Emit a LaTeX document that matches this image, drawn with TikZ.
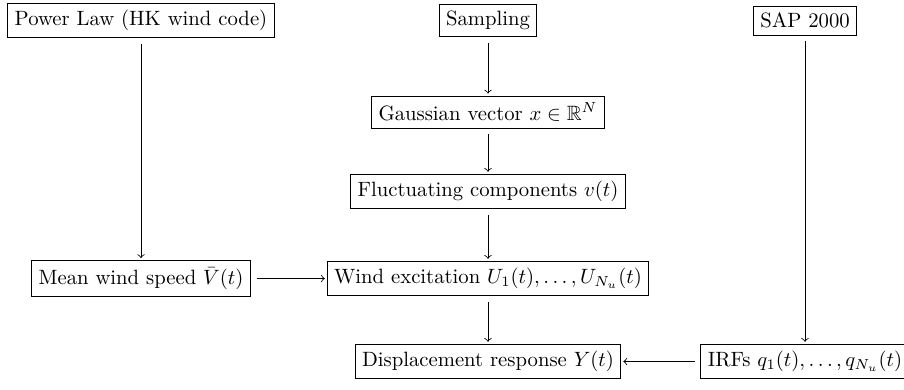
\documentclass[tikz,border=0pt]{standalone}
\usepackage{amssymb}
\begin{document}
\begin{tikzpicture}[x=0.483pt,y=-0.483pt,
  box/.style={draw, inner sep=3.33pt, line width=0.4pt},
  arr/.style={->, line width=0.4pt, shorten <=2.8pt, shorten >=1pt}]
\useasboundingbox (0,0) rectangle (904,389);
\node[box] (power) at (141,20.5) {Power Law (HK wind code)};
\node[box] (sampling) at (488,20.5) {Sampling};
\node[box] (sap) at (805,20.5) {SAP 2000};
\node[box] (gauss) at (488,112) {Gaussian vector $x\in\mathbb{R}^N$};
\node[box] (fluct) at (488,191.5) {Fluctuating components $v(t)$};
\node[box] (mean) at (141,278.5) {Mean wind speed $\bar{V}(t)$};
\node[box] (wind) at (488,278.5) {Wind excitation $U_1(t),\ldots,U_{N_u}(t)$};
\node[box] (disp) at (488,361.5) {Displacement response $Y(t)$};
\node[box] (irf) at (805,361.5) {IRFs $q_1(t),\ldots,q_{N_u}(t)$};
\draw[arr] (power) -- (mean);
\draw[arr] (sampling) -- (gauss);
\draw[arr] (gauss) -- (fluct);
\draw[arr] (fluct) -- (wind);
\draw[arr] (wind) -- (disp);
\draw[arr] (sap) -- (irf);
\draw[arr] (mean) -- (wind);
\draw[arr] (irf) -- (disp);
\end{tikzpicture}
\end{document}
